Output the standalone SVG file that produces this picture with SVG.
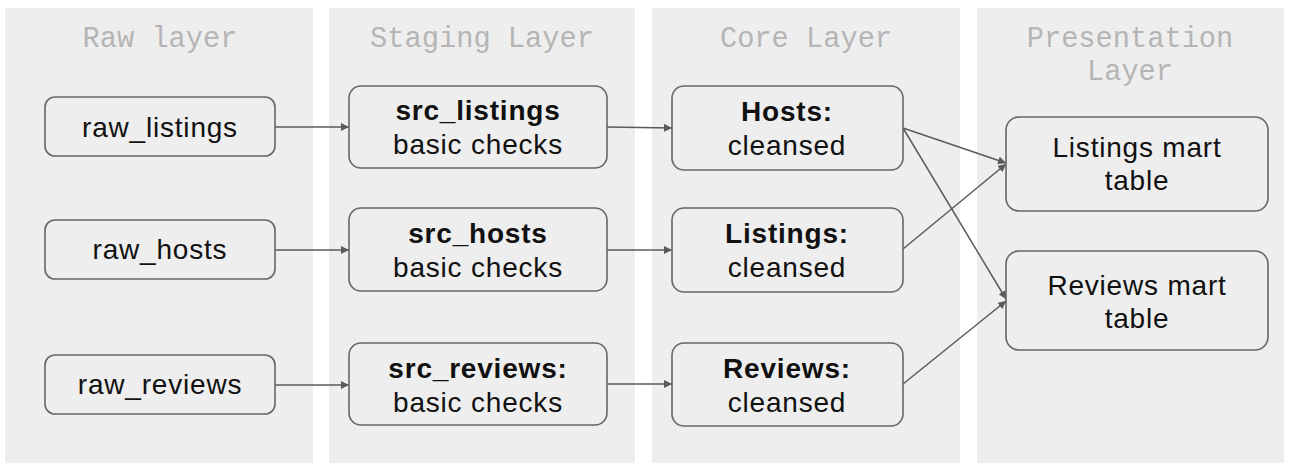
<svg xmlns="http://www.w3.org/2000/svg" width="1290" height="471" viewBox="0 0 1290 471">
<defs>
<style>
.panel{fill:#eeeeee}
.title{font-family:"Liberation Mono","DejaVu Sans Mono",monospace;font-size:28.7px;fill:#b5b5b5;text-anchor:middle}
.box{fill:#eeeeee;stroke:#666666;stroke-width:1.6}
.t{font-family:"Liberation Sans",Arial,sans-serif;font-size:28px;letter-spacing:0.8px;fill:#111111;text-anchor:middle}
.b{font-weight:bold}
.edge{fill:none;stroke:#5a5a5a;stroke-width:1.5;marker-end:url(#arr)}
</style>
<marker id="arr" viewBox="0 0 10 10" refX="10" refY="5" markerWidth="8" markerHeight="8" markerUnits="userSpaceOnUse" orient="auto">
<path d="M0,0 L10,5 L0,10 z" fill="#5a5a5a"/>
</marker>
</defs>
<rect width="1290" height="471" fill="#ffffff"/>
<g id="panels">
<rect class="panel" x="5" y="8" width="308" height="455"/>
<rect class="panel" x="329" y="8" width="306" height="455"/>
<rect class="panel" x="652" y="8" width="308" height="455"/>
<rect class="panel" x="977" y="8" width="307" height="455"/>
<text class="title" x="160" y="47">Raw layer</text>
<text class="title" x="482" y="47">Staging Layer</text>
<text class="title" x="806" y="47">Core Layer</text>
<text class="title" x="1130" y="47">Presentation</text>
<text class="title" x="1130" y="80">Layer</text>
</g>
<g id="connectors">
<line class="edge" x1="275" y1="127" x2="349" y2="127"/>
<line class="edge" x1="275" y1="250" x2="349" y2="250"/>
<line class="edge" x1="275" y1="385" x2="349" y2="385"/>
<line class="edge" x1="607" y1="127" x2="672" y2="128"/>
<line class="edge" x1="607" y1="250" x2="672" y2="250"/>
<line class="edge" x1="607" y1="384" x2="672" y2="384"/>
<line class="edge" x1="903" y1="128" x2="1006" y2="163"/>
<line class="edge" x1="903" y1="128" x2="1006" y2="299"/>
<line class="edge" x1="903" y1="249" x2="1006" y2="164"/>
<line class="edge" x1="903" y1="384" x2="1006" y2="301"/>
</g>
<g id="raw_listings"><rect class="box" x="45" y="97" width="230" height="59" rx="10"/><text class="t" x="160" y="137">raw_listings</text></g>
<g id="raw_hosts"><rect class="box" x="45" y="220" width="230" height="59" rx="10"/><text class="t" x="160" y="259">raw_hosts</text></g>
<g id="raw_reviews"><rect class="box" x="45" y="355" width="230" height="59" rx="10"/><text class="t" x="160" y="394">raw_reviews</text></g>
<g id="src_listings"><rect class="box" x="349" y="86" width="258" height="82" rx="12"/><text class="t b" x="478" y="120">src_listings</text><text class="t" x="478" y="154">basic checks</text></g>
<g id="src_hosts"><rect class="box" x="349" y="208" width="258" height="83" rx="12"/><text class="t b" x="478" y="243">src_hosts</text><text class="t" x="478" y="277">basic checks</text></g>
<g id="src_reviews"><rect class="box" x="349" y="343" width="258" height="82" rx="12"/><text class="t b" x="478" y="378">src_reviews:</text><text class="t" x="478" y="412">basic checks</text></g>
<g id="hosts"><rect class="box" x="672" y="86" width="231" height="84" rx="12"/><text class="t b" x="787" y="121">Hosts:</text><text class="t" x="787" y="155">cleansed</text></g>
<g id="listings"><rect class="box" x="672" y="208" width="231" height="84" rx="12"/><text class="t b" x="787" y="243">Listings:</text><text class="t" x="787" y="277">cleansed</text></g>
<g id="reviews"><rect class="box" x="672" y="343" width="231" height="83" rx="12"/><text class="t b" x="787" y="378">Reviews:</text><text class="t" x="787" y="412">cleansed</text></g>
<g id="listings_mart"><rect class="box" x="1006" y="117" width="262" height="94" rx="13"/><text class="t" x="1137" y="157">Listings mart</text><text class="t" x="1137" y="190">table</text></g>
<g id="reviews_mart"><rect class="box" x="1006" y="251" width="262" height="99" rx="13"/><text class="t" x="1137" y="295">Reviews mart</text><text class="t" x="1137" y="328">table</text></g>
</svg>
